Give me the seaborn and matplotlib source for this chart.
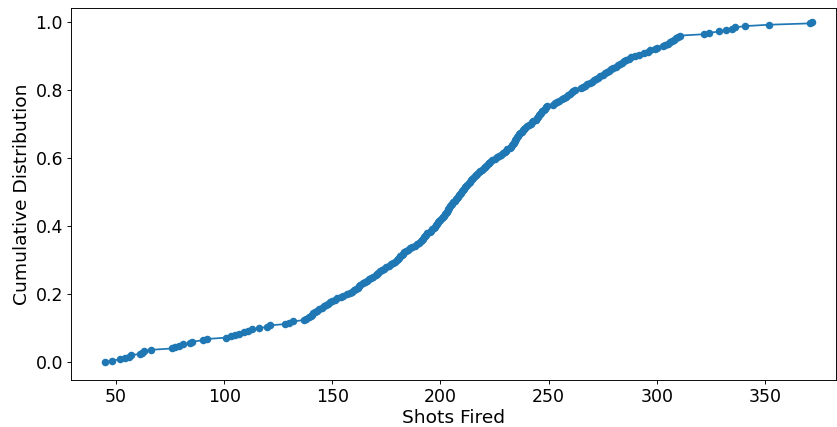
import numpy as np
import pandas as pd
import matplotlib
matplotlib.use("Agg")
import matplotlib.pyplot as plt
import seaborn as sns

# shots fired per match, sorted
shots = [45, 48, 52, 54, 56, 57, 61, 62, 63, 66, 76, 77, 79, 81, 84, 85, 90, 92, 101, 103, 105, 107, 109, 111, 113,
         116, 120, 121, 128, 130, 132, 137, 138, 139, 140, 140.5, 141, 142, 143, 144, 145, 146, 147, 148, 149, 150, 151, 152, 154, 155,
         157, 158, 159, 160, 161, 162, 162.5, 163, 164, 165, 166, 167, 168, 169, 170, 170.5, 171, 172, 173, 174, 175, 176, 177, 178, 179,
         180, 180.5, 181, 181.5, 182, 182.5, 183, 184, 185, 186, 187, 188, 189, 190, 191, 191.5, 192, 192.5, 193, 193.5, 194, 195, 195.5, 196, 197,
         197.5, 198, 198.5, 199, 199.5, 200, 200.5, 201, 201.5, 202, 202.5, 203, 203.3, 203.6, 204, 204.5, 205, 205.5, 206, 206.5, 207, 207.5, 208, 208.5, 209,
         209.5, 210, 210.5, 211, 211.5, 212, 212.5, 213, 213.5, 214, 214.5, 215, 216, 216.5, 217, 218, 218.5, 219, 220, 220.5, 221, 222, 222.5, 223, 224,
         225, 226, 227, 228, 229, 230, 230.5, 231, 232, 232.5, 233, 233.5, 234, 234.3, 234.6, 235, 235.5, 236, 236.5, 237, 237.5, 238, 238.5, 239, 240,
         241, 242, 242.5, 243, 244, 244.5, 245, 245.5, 246, 246.5, 247, 248, 248.5, 249, 249.5, 252, 253, 254, 255, 256, 257, 258, 259, 260, 261,
         261.5, 262, 265, 266, 267, 268, 269, 270, 271, 272, 273, 274, 275, 276, 277, 278, 279, 280, 281, 282, 283, 284, 285, 286, 287,
         288, 290, 292, 294, 296, 297, 299, 300, 303, 304, 305, 306, 307, 308, 309, 310, 311,
         322, 324, 329, 332, 335, 336, 341, 352, 371, 372]

df = pd.DataFrame({"shots": shots})
df["cdf"] = np.arange(len(df)) / (len(df) - 1)

fig, ax = plt.subplots(figsize=(10, 5.102), dpi=83.7)
sns.lineplot(data=df, x="shots", y="cdf", marker="o", markersize=6.5, markeredgewidth=0,
             estimator=None, sort=False, color="#1f77b4", linewidth=1.5, ax=ax)

ax.set_xlim(29.2, 383)
ax.set_ylim(-0.053, 1.041)
ax.set_xlabel("Shots Fired", fontsize=16, labelpad=2)
ax.set_ylabel("Cumulative Distribution", fontsize=16)
ax.tick_params(labelsize=15)

plt.subplots_adjust(left=0.085, right=0.999, top=0.981, bottom=0.11)
plt.savefig("out.png", dpi=83.7)
